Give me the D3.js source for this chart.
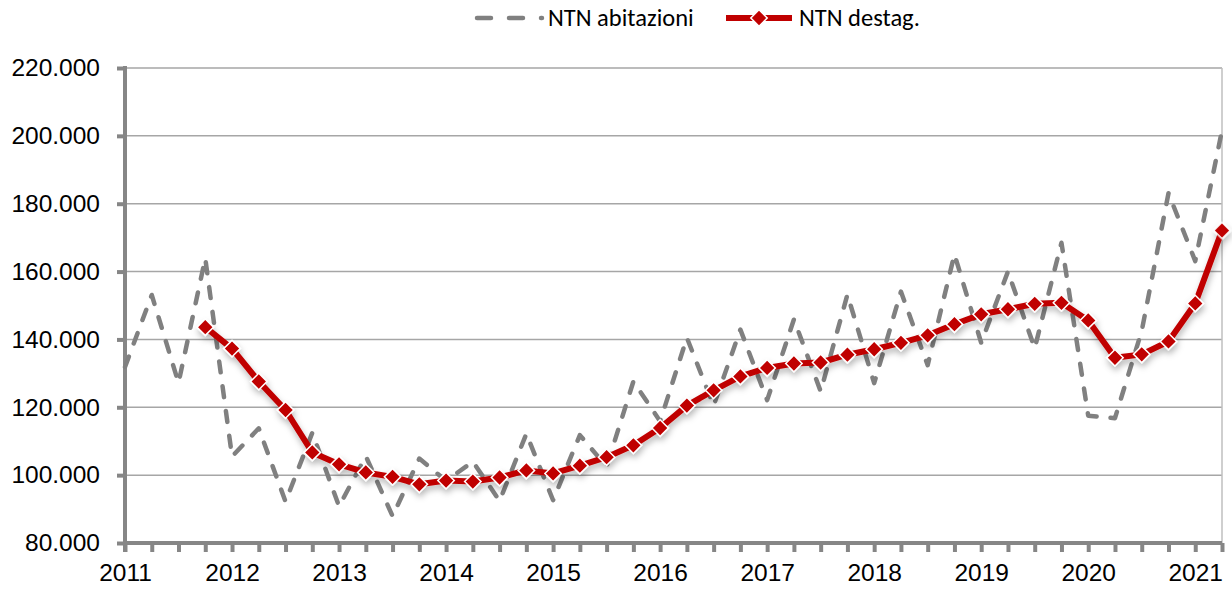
<!DOCTYPE html>
<html>
<head>
<meta charset="utf-8">
<script src="https://cdn.jsdelivr.net/npm/d3@7"></script>
<style>
  html, body { margin: 0; padding: 0; background: #fff; }
  svg { display: block; font-family: Carlito, Lato, "Open Sans", sans-serif; }
</style>
</head>
<body>
<svg id="chart" width="1232" height="591"></svg>
<script>
// quarters 2011 Q1 .. 2021 Q2
var quarterYears = [2011,2011,2011,2011,2012,2012,2012,2012,2013,2013,2013,2013,
  2014,2014,2014,2014,2015,2015,2015,2015,2016,2016,2016,2016,2017,2017,2017,2017,
  2018,2018,2018,2018,2019,2019,2019,2019,2020,2020,2020,2020,2021,2021];
var quarterNums = [1,2,3,4,1,2,3,4,1,2,3,4,1,2,3,4,1,2,3,4,1,2,3,4,1,2,3,4,
  1,2,3,4,1,2,3,4,1,2,3,4,1,2];

var ntnAbitazioni = [131900,153100,127200,163900,105500,113800,92200,112500,
  90800,105600,87900,104900,98300,104000,92400,112200,92600,111800,102500,127600,
  115900,140500,120500,142900,122100,145900,124700,153200,127100,154100,132400,165100,
  139000,160000,137400,168500,117500,116800,142500,183100,163100,201600];

var ntnDestag = [null,null,null,143600,137300,127600,119200,106700,
  103200,100800,99500,97300,98400,98100,99300,101400,100500,102800,105300,108800,
  113900,120500,125000,129100,131600,132900,133200,135500,137100,139000,141200,144500,
  147400,148900,150500,150800,145600,134600,135600,139400,150600,172100];

var yTicks = [80000,100000,120000,140000,160000,180000,200000,220000];
var seriesNames = ["NTN abitazioni", "NTN destag."];

function drawChart() {
  var itLocale = d3.formatLocale({decimal: ",", thousands: ".", grouping: [3], currency: ["€", ""]});
  var yLabel = function(v) { return itLocale.format(",")(v / 1000) + ".000"; };

  var svg = d3.select("#chart");
  var pLeft = 125, pRight = 1222, pTop = 68, pBottom = 543;
  var fs = 24.5;

  var x = d3.scaleLinear().domain([0, ntnAbitazioni.length - 1]).range([pLeft, pRight]);
  var y = d3.scaleLinear().domain([80000, 220000]).range([pBottom, pTop]);

  var defs = svg.append("defs");
  var f = defs.append("filter").attr("id", "shadow")
    .attr("x", "-10%").attr("y", "-10%").attr("width", "120%").attr("height", "130%");
  f.append("feDropShadow").attr("dx", 1).attr("dy", 4).attr("stdDeviation", 3)
    .attr("flood-color", "#000").attr("flood-opacity", 0.28);

  // gridlines
  svg.append("g")
    .selectAll("line").data(yTicks).join("line")
    .attr("x1", pLeft).attr("x2", pRight)
    .attr("y1", function(d){ return y(d); }).attr("y2", function(d){ return y(d); })
    .attr("stroke", "#a6a6a6").attr("stroke-width", 1.5);

  // right border
  svg.append("line").attr("x1", pRight).attr("x2", pRight).attr("y1", pTop).attr("y2", pBottom)
    .attr("stroke", "#bfbfbf").attr("stroke-width", 1.5);

  // y axis
  var yAxis = svg.append("g").attr("transform", "translate(" + pLeft + ",0)")
    .call(d3.axisLeft(y).tickValues(yTicks).tickSize(8).tickPadding(17).tickFormat(yLabel));
  yAxis.select(".domain").remove();
  yAxis.selectAll(".tick line").attr("stroke", "#868686").attr("stroke-width", 4);
  yAxis.selectAll("text").attr("font-size", fs).attr("fill", "#000");
  svg.append("line").attr("x1", pLeft).attr("x2", pLeft).attr("y1", pTop - 2).attr("y2", pBottom + 9)
    .attr("stroke", "#868686").attr("stroke-width", 4);

  // x axis
  var xAxis = svg.append("g").attr("transform", "translate(0," + pBottom + ")")
    .call(d3.axisBottom(x).tickValues(d3.range(ntnAbitazioni.length)).tickSize(9).tickPadding(12)
      .tickFormat(function(i){ return quarterNums[i] === 1 ? quarterYears[i] : ""; }));
  xAxis.select(".domain").remove();
  xAxis.selectAll(".tick line").attr("stroke", "#868686").attr("stroke-width", 4);
  xAxis.selectAll("text").attr("font-size", fs).attr("fill", "#000");
  svg.append("line").attr("x1", pLeft - 2).attr("x2", pRight).attr("y1", pBottom).attr("y2", pBottom)
    .attr("stroke", "#868686").attr("stroke-width", 4);

  var line = d3.line()
    .defined(function(d){ return d != null; })
    .x(function(d, i){ return x(i); })
    .y(function(d){ return y(d); });

  // gray dashed series
  svg.append("path").datum(ntnAbitazioni)
    .attr("d", line)
    .attr("fill", "none").attr("stroke", "#808080").attr("stroke-width", 4.5)
    .attr("stroke-dasharray", "11,14").attr("stroke-linecap", "round")
    .attr("stroke-linejoin", "round");

  // red series with markers
  var red = svg.append("g").attr("filter", "url(#shadow)");
  red.append("path").datum(ntnDestag)
    .attr("d", line)
    .attr("fill", "none").attr("stroke", "#c00000").attr("stroke-width", 6)
    .attr("stroke-linejoin", "round");

  var diamond = d3.symbol().type(d3.symbolSquare).size(135);
  red.selectAll("path.mk")
    .data(ntnDestag.map(function(v, i){ return {v: v, i: i}; }).filter(function(d){ return d.v != null; }))
    .join("path").attr("class", "mk")
    .attr("d", diamond)
    .attr("transform", function(d){ return "translate(" + x(d.i) + "," + y(d.v) + ") rotate(45)"; })
    .attr("fill", "#c00000").attr("stroke", "#fff").attr("stroke-width", 1.5);

  // legend
  var lg = svg.append("g");
  lg.append("line").attr("x1", 477).attr("x2", 542).attr("y1", 18).attr("y2", 18)
    .attr("stroke", "#808080").attr("stroke-width", 4.5)
    .attr("stroke-dasharray", "14,18").attr("stroke-linecap", "round");
  lg.append("text").attr("x", 548).attr("y", 26).attr("font-size", fs).text(seriesNames[0]);

  lg.append("line").attr("x1", 726).attr("x2", 792).attr("y1", 18).attr("y2", 18)
    .attr("stroke", "#c00000").attr("stroke-width", 6);
  lg.append("path").attr("d", diamond)
    .attr("transform", "translate(759,18) rotate(45)")
    .attr("fill", "#c00000").attr("stroke", "#fff").attr("stroke-width", 1.5);
  lg.append("text").attr("x", 799).attr("y", 26).attr("font-size", fs).text(seriesNames[1]);
}

drawChart();
</script>
</body>
</html>
